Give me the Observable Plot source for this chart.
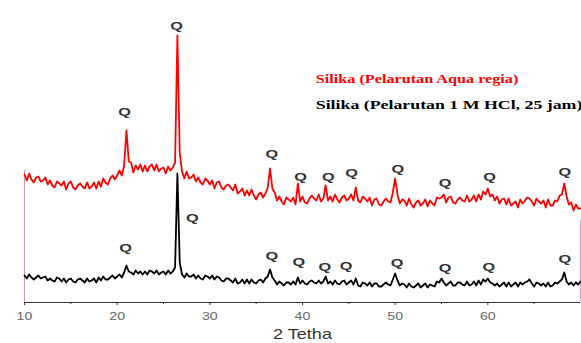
<!DOCTYPE html>
<html>
<head>
<meta charset="utf-8">
<script src="https://cdn.jsdelivr.net/npm/d3@7"></script>
<script src="https://cdn.jsdelivr.net/npm/@observablehq/plot@0.6"></script>
<style>
  html, body { margin: 0; padding: 0; background: #fff; }
  #chart svg { display: block; }
</style>
</head>
<body>
<div id="chart"></div>
<script>
// 2θ sampling grid (degrees), step 0.25 from 10 to 70
const twoTheta = d3.range(0, 241).map(i => 10 + i * 0.25);

// Intensity (a.u.) — Silika (Pelarutan Aqua regia)
const redIntensity = [
  128,122,129,123, 120,125,126,121, 122,125,118,122, 117,115,121,119,
  117,121,113,119, 121,115,113,117, 119,116,114,120, 114,116,120,114,
  121,116,124,120, 118,124,127,123, 127,132,127,137, 172,141,140,130,
  137,133,138,131, 137,131,136,138, 132,138,131,134, 135,129,136,132,
  135,140,267,150, 131,124,131,124, 125,128,121,125, 120,118,124,122,
  118,122,114,120, 121,115,113,117, 118,115,112,118, 109,111,114,107,
  112,107,113,107, 103,108,110,105, 109,115,134,114, 110,102,106,101,
  98,105,103,101,  105,98,119,101,  106,100,99,104,  107,104,102,108,
  101,104,117,102, 106,101,108,103, 100,105,107,102, 104,108,102,115,
  102,100,106,104, 101,105,97,103,  104,98,97,101,   104,101,100,110,
  124,108,99,103,  102,97,104,98,   95,100,102,97,   99,103,96,102,
  99,97,105,104,   105,108,100,105, 106,100,99,103,  105,102,101,107,
  101,103,107,101, 108,103,111,108, 114,106,108,102, 106,99,103,104,
  98,104,97,99,    101,95,103,99,   102,105,104,101, 97,104,101,99,
  102,95,103,97,   97,102,101,107,  108,119,106,98,  100,92,98,94,
  94
];

// Intensity (a.u.) — Silika (Pelarutan 1 M HCl, 25 jam)
const blackIntensity = [
  27,24,28,25, 23,25,27,24, 25,26,22,24, 22,21,25,24,
  21,24,20,23, 24,21,20,23, 24,22,20,24, 21,22,24,20,
  25,22,26,23, 23,25,27,24, 26,28,25,30, 37,31,30,28,
  32,29,31,28, 31,28,32,31, 29,32,28,30, 31,28,32,29,
  31,35,129,40, 28,25,29,26, 26,28,24,27, 24,23,27,26,
  24,27,23,26, 25,22,21,24, 24,22,20,24, 19,20,23,19,
  23,19,23,20, 19,22,23,20, 24,26,33,25, 22,18,21,19,
  17,20,20,18, 21,18,25,19, 22,19,18,21, 22,20,19,22,
  19,21,26,19, 21,18,22,19, 18,21,22,18, 20,22,18,24,
  17,16,20,19, 17,20,16,19, 19,16,16,18, 20,18,17,23,
  29,22,17,19, 18,15,19,16, 15,17,19,15, 17,19,15,18,
  17,16,21,20, 24,20,17,19, 21,17,17,20, 20,18,17,21,
  17,18,21,17, 22,18,23,21, 24,20,19,17, 19,16,18,20,
  16,20,16,18, 20,16,20,18, 20,21,23,19, 16,20,19,17,
  19,16,20,16, 17,20,19,21, 23,30,21,18, 20,17,20,18,
  21
];

// "Q" (quartz) peak markers
const qRedX = [20.8, 26.4, 36.7, 39.8, 42.8, 45.3, 50.3, 55.4, 60.2, 68.3];
const qRedY = [190, 276, 148, 125, 125, 129, 133, 119, 125, 130];
const qBlackX = [20.9, 28.1, 36.7, 39.6, 42.4, 44.7, 50.2, 55.4, 60.1, 68.3];
const qBlackY = [54, 84, 46, 40, 35, 36, 39, 34, 35, 43];

const majorTicks = [10, 20, 30, 40, 50, 60];
const minorTicks = [15, 25, 35, 45, 55, 65];
const seriesNames = ["Silika (Pelarutan Aqua regia)", "Silika (Pelarutan 1 M HCl, 25 jam)"];
const xLabel = "2 Tetha";

const redData = twoTheta.map((x, i) => ({x, y: redIntensity[i]}));
const blackData = twoTheta.map((x, i) => ({x, y: blackIntensity[i]}));
const qRed = qRedX.map((x, i) => ({x, y: qRedY[i]}));
const qBlack = qBlackX.map((x, i) => ({x, y: qBlackY[i]}));

const serif = "'Liberation Serif', 'Times New Roman', serif";

const chart = Plot.plot({
  width: 581,
  height: 343,
  marginLeft: 24,
  marginRight: 1,
  marginTop: 0,
  marginBottom: 41,
  style: {fontFamily: "'Liberation Sans', Arial, sans-serif", background: "#fff"},
  x: {domain: [10, 70]},
  y: {domain: [0, 302], axis: null},
  marks: [
    Plot.ruleX([10], {y1: 0, y2: 132, stroke: "#c9a0a8", strokeWidth: 1}),
    Plot.ruleX([70], {y1: 0, y2: 82, stroke: "#f0a0c0", strokeWidth: 1}),
    Plot.line(redData, {x: "x", y: "y", stroke: "#ff0000", strokeWidth: 1.8}),
    Plot.line(blackData, {x: "x", y: "y", stroke: "#000000", strokeWidth: 1.8}),
    Plot.ruleY([0], {stroke: "#333", strokeWidth: 1}),
    Plot.axisX({ticks: majorTicks, tickSize: 3, tickPadding: 7, fontSize: 10.5, color: "#666", stroke: "#333", label: null}),
    Plot.axisX({ticks: minorTicks, tickSize: 2, tickFormat: () => "", stroke: "#333", label: null}),
    Plot.text([xLabel], {frameAnchor: "bottom", dy: 36, fontSize: 14, fill: "#333"}),
    Plot.text(qRed, {x: "x", y: "y", text: () => "Q", fontSize: 10.5, fontWeight: "bold", fill: "#333", lineAnchor: "middle"}),
    Plot.text(qBlack, {x: "x", y: "y", text: () => "Q", fontSize: 10.5, fontWeight: "bold", fill: "#333", lineAnchor: "middle"}),
    Plot.text([seriesNames[0]], {x: 41.43, y: 224, text: d => d, textAnchor: "start", lineAnchor: "middle", fontSize: 13.5, fontWeight: "bold", fontFamily: serif, fill: "#ff0000"}),
    Plot.text([seriesNames[1]], {x: 41.43, y: 198, text: d => d, textAnchor: "start", lineAnchor: "middle", fontSize: 13.5, fontWeight: "bold", fontFamily: serif, fill: "#000"})
  ]
});

// The source picture is horizontally stretched: widen the glyphs to match
const stretch = t => {
  if (t === "Q") return 1.55;
  if (t === xLabel) return 1.29;
  if (t === seriesNames[0]) return 1.2;
  if (t === seriesNames[1]) return 1.32;
  if (/^\d+$/.test(t)) return 1.35;
  return 1;
};
d3.select(chart).selectAll("text").each(function () {
  const s = stretch(this.textContent.trim());
  if (s === 1) return;
  let tr = this.getAttribute("transform");
  if (!tr) {
    const x = +this.getAttribute("x") || 0, y = +this.getAttribute("y") || 0;
    this.removeAttribute("x"); this.removeAttribute("y");
    tr = `translate(${x},${y})`;
  }
  this.setAttribute("transform", `${tr} scale(${s},1)`);
});

document.getElementById("chart").appendChild(chart);
</script>
</body>
</html>
